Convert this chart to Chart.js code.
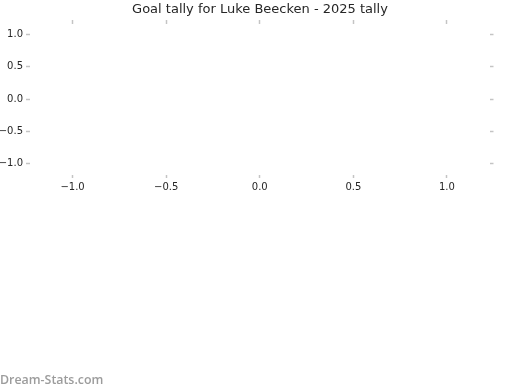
<!DOCTYPE html>
<html>
<head>
<meta charset="utf-8">
<script src="https://cdn.jsdelivr.net/npm/chart.js@4.4.1/dist/chart.umd.min.js"></script>
<style>
  html, body { margin: 0; padding: 0; background: #fff; }
  #wrap { position: relative; width: 520px; height: 390px; }
  #mark { position: absolute; left: 0; top: 371px; font: 600 12.4px "Open Sans", sans-serif; color: #9c9c9c; }
</style>
</head>
<body>
<div id="wrap">
  <canvas id="c" width="520" height="390"></canvas>
  <div id="mark">Dream-Stats.com</div>
</div>
<script>
// no goals recorded, so the series is empty
const goalPoints = [];
const xRange = [-1.23, 1.23];
const yRange = [-1.17, 1.17];
const tickStep = 0.5;
const titleText = "Goal tally for Luke Beecken - 2025 tally";

const fontFamily = "'DejaVu Sans', sans-serif";
const tickGrey = "#c4c4c4";

function fmt(v) {
  return v.toFixed(1).replace("-", "\u2212");
}

function fixSize(w, h) {
  return function (scale) {
    if (w != null) scale.width = w;
    if (h != null) scale.height = h;
  };
}

function axis(pos, range, showLabels, fit) {
  return {
    type: "linear",
    position: pos,
    min: range[0],
    max: range[1],
    afterFit: fit,
    afterBuildTicks: function (scale) {
      const ticks = [];
      for (let v = -1; v <= 1.0001; v += tickStep) ticks.push({ value: Math.round(v * 10) / 10 });
      scale.ticks = ticks;
    },
    border: { display: false },
    grid: {
      display: true,
      drawOnChartArea: false,
      drawTicks: true,
      tickLength: 3.5,
      tickWidth: 1.5,
      tickColor: tickGrey
    },
    ticks: {
      display: showLabels,
      padding: 3,
      color: "#262626",
      font: { family: fontFamily, size: 10 },
      callback: fmt
    }
  };
}

new Chart(document.getElementById("c"), {
  type: "scatter",
  data: {
    datasets: [{ label: "Goals", data: goalPoints, backgroundColor: "#1f77b4" }]
  },
  options: {
    responsive: false,
    animation: false,
    layout: { padding: 0 },
    plugins: {
      legend: { display: false },
      tooltip: { enabled: false },
      title: {
        display: true,
        text: titleText,
        color: "#262626",
        font: { family: fontFamily, size: 13, weight: "normal", lineHeight: 1.2 },
        padding: { top: 2, bottom: 0 }
      }
    },
    scales: {
      x: axis("bottom", xRange, true, fixSize(null, 215.5)),
      x2: axis("top", xRange, false, fixSize(null, 5.9)),
      y: axis("left", yRange, true, fixSize(29.5, null)),
      y2: axis("right", yRange, false, fixSize(30, null))
    }
  }
});
</script>
</body>
</html>
